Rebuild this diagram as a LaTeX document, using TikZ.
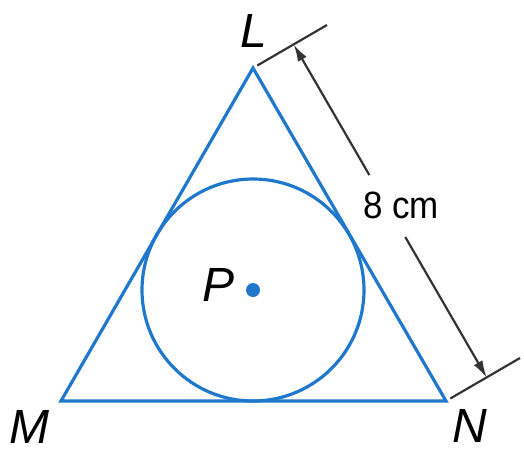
\documentclass[tikz,border=0pt]{standalone}
\usepackage{fontspec}
\setmainfont{Liberation Sans}
\usepackage{tikz}
\usetikzlibrary{arrows.meta,calc}
\definecolor{tblue}{HTML}{1F78CC}
\definecolor{dimgray}{HTML}{333333}

\begin{document}
\begin{tikzpicture}[x=1pt, y=-1pt,
  vlabel/.style={font=\fontsize{48}{48}\selectfont\itshape, inner sep=0pt},
  dimline/.style={dimgray, line width=2.2pt},
  dimarrow/.style={dimline, -{Latex[length=17pt,width=10pt]}}]
 \useasboundingbox (0,0) rectangle (524,453);
 \coordinate (L) at (253,68);
 \coordinate (M) at (61,401);
 \coordinate (N) at (446,401);
 \coordinate (P) at (253,290);
 \draw[tblue, line width=3.2pt, line join=miter] (L) -- (M) -- (N) -- cycle;
 \draw[tblue, line width=3.2pt] (P) circle (111);
 \fill[tblue] (P) circle (7);
 \node[vlabel] (labL) at (254,31) {L};
 \node[vlabel] (labM) at (29,427) {M};
 \node[vlabel] (labN) at (470,426) {N};
 \node[vlabel] (labP) at (219,285) {P};
 % extension and dimension lines
 \coordinate (extL1) at ($(L)+(4.3,-2.5)$);
 \coordinate (extL2) at ($(L)+(74,-43)$);
 \coordinate (extN1) at ($(N)+(4.3,-2.5)$);
 \coordinate (extN2) at ($(N)+(74,-43)$);
 \draw[dimline] (extL1) -- (extL2);
 \draw[dimline] (extN1) -- (extN2);
 \coordinate (dimL) at ($(L)+(40.7,-23.5)$);
 \coordinate (dimN) at ($(N)+(40.7,-23.5)$);
 \node[font=\fontsize{38}{38}\selectfont, inner sep=0pt, xscale=0.92] (len) at (401,205) {8 cm};
 \draw[dimarrow] ($(dimL)!0.392!(dimN)$) -- (dimL);
 \draw[dimarrow] ($(dimL)!0.578!(dimN)$) -- (dimN);
\end{tikzpicture}
\end{document}
